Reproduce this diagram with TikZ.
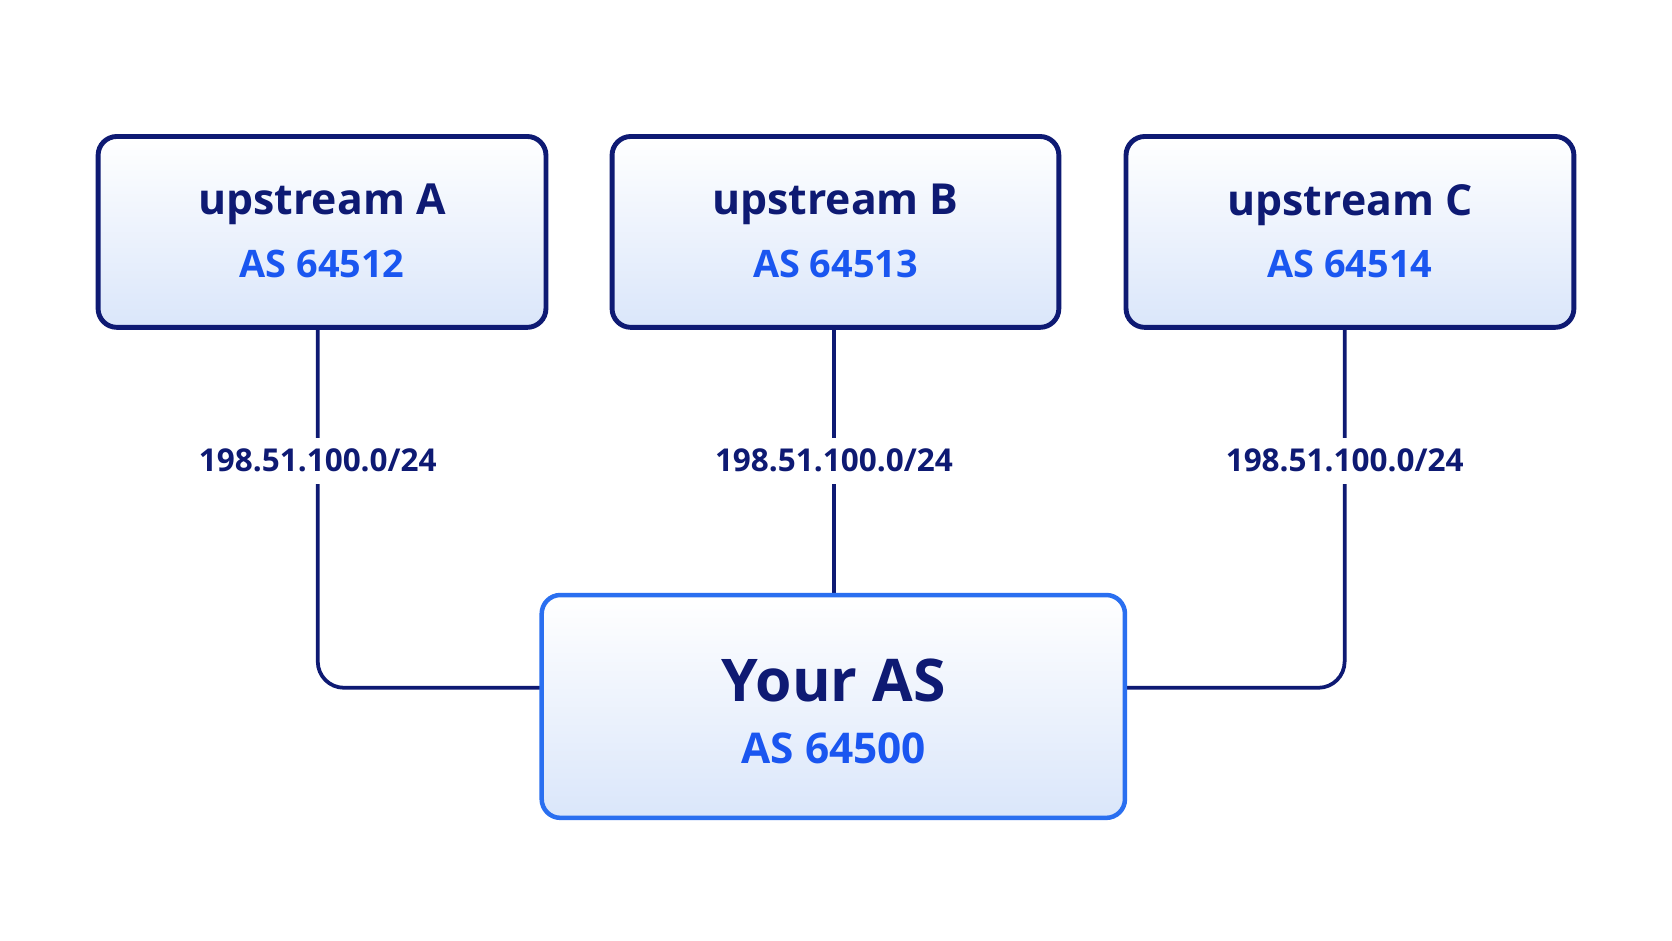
\documentclass[tikz,border=0pt]{standalone}
\usepackage{fontspec}
\setmainfont{Open Sans}
\begin{document}
\begin{tikzpicture}[x=0.01cm,y=-0.01cm,
  conn/.style={draw=navyc,line width=1pt,rounded corners=7pt},
  lbl/.style={fill=white,text=navyc,font=\fontsize{8.4}{10}\selectfont\bfseries,inner sep=3pt}]
\definecolor{navyc}{HTML}{0E1A73}
\definecolor{bluec}{HTML}{1A56F0}
\definecolor{boxb}{HTML}{DAE6FA}
\definecolor{yb}{HTML}{2A6FF0}
\useasboundingbox[fill=white] (0,0) rectangle (1568,882);
\coordinate (ta) at (298,307); \coordinate (tb) at (782,307); \coordinate (tc) at (1261,307);
\coordinate (ya) at (508,645); \coordinate (yt) at (782,558); \coordinate (yc) at (1055,645);
\draw[conn] (ta) -- (298,645) -- (ya);
\draw[conn] (tb) -- (yt);
\draw[conn] (tc) -- (1261,645) -- (yc);
\node[lbl] (la) at (298,432) {198.51.100.0/24};
\node[lbl] (lb) at (782,432) {198.51.100.0/24};
\node[lbl] (lc) at (1261,432) {198.51.100.0/24};
\foreach \n/\xa/\xb/\t/\s in {a/92/512/A/64512,b/574/993/B/64513,c/1056/1476/C/64514}{
  \path[draw=navyc,line width=1.3pt,rounded corners=5pt,top color=white,bottom color=boxb] (\xa,128) rectangle (\xb,307);
  \node[text=navyc,font=\fontsize{11.4}{14}\selectfont\bfseries] (t\n) at ({(\xa+\xb)/2},192) {upstream \t};
  \node[text=bluec,font=\fontsize{10.1}{12}\selectfont\bfseries] (s\n) at ({(\xa+\xb)/2},248) {AS \s};
}
\path[draw=yb,line width=1.2pt,rounded corners=5pt,top color=white,bottom color=boxb] (508,558) rectangle (1055,767);
\node[text=navyc,font=\fontsize{15.7}{18}\selectfont\bfseries] (y) at (782,638) {Your AS};
\node[text=bluec,font=\fontsize{11.3}{14}\selectfont\bfseries] (ys) at (782,702) {AS 64500};
\end{tikzpicture}
\end{document}
